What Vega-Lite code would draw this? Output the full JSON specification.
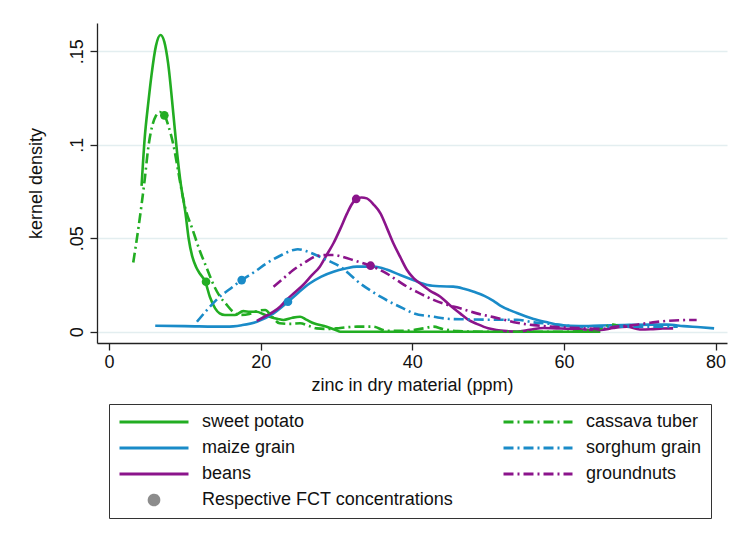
{
  "$schema": "https://vega.github.io/schema/vega-lite/v6.json",
  "width": 630,
  "height": 320,
  "autosize": {"type": "none"},
  "padding": {"left": 97, "top": 23, "right": 23, "bottom": 205},
  "background": "white",
  "config": {
    "font": "Liberation Sans",
    "view": {"stroke": null},
    "axis": {
      "domainColor": "#222222",
      "domainWidth": 1.3,
      "tickColor": "#222222",
      "tickWidth": 1.3,
      "tickSize": 7,
      "labelFont": "Liberation Sans",
      "labelFontSize": 18,
      "labelColor": "#111111",
      "titleFont": "Liberation Sans",
      "titleFontSize": 18,
      "titleFontWeight": "normal",
      "titleColor": "#111111"
    }
  },
  "datasets": {
    "curves": [
      {"crop": "sweet potato", "style": "solid", "x": 4.3, "y": 0.078},
      {"crop": "sweet potato", "style": "solid", "x": 4.7, "y": 0.103},
      {"crop": "sweet potato", "style": "solid", "x": 5.2, "y": 0.123},
      {"crop": "sweet potato", "style": "solid", "x": 5.6, "y": 0.137},
      {"crop": "sweet potato", "style": "solid", "x": 6.2, "y": 0.153},
      {"crop": "sweet potato", "style": "solid", "x": 6.8, "y": 0.1587},
      {"crop": "sweet potato", "style": "solid", "x": 7.3, "y": 0.155},
      {"crop": "sweet potato", "style": "solid", "x": 7.8, "y": 0.1435},
      {"crop": "sweet potato", "style": "solid", "x": 8.5, "y": 0.116},
      {"crop": "sweet potato", "style": "solid", "x": 9.0, "y": 0.095},
      {"crop": "sweet potato", "style": "solid", "x": 9.4, "y": 0.081},
      {"crop": "sweet potato", "style": "solid", "x": 10.1, "y": 0.063},
      {"crop": "sweet potato", "style": "solid", "x": 10.5, "y": 0.05},
      {"crop": "sweet potato", "style": "solid", "x": 11.0, "y": 0.04},
      {"crop": "sweet potato", "style": "solid", "x": 11.5, "y": 0.0345},
      {"crop": "sweet potato", "style": "solid", "x": 12.0, "y": 0.031},
      {"crop": "sweet potato", "style": "solid", "x": 12.7, "y": 0.0267},
      {"crop": "sweet potato", "style": "solid", "x": 13.3, "y": 0.0187},
      {"crop": "sweet potato", "style": "solid", "x": 14.0, "y": 0.0125},
      {"crop": "sweet potato", "style": "solid", "x": 14.6, "y": 0.0098},
      {"crop": "sweet potato", "style": "solid", "x": 15.3, "y": 0.0089},
      {"crop": "sweet potato", "style": "solid", "x": 16.6, "y": 0.0089},
      {"crop": "sweet potato", "style": "solid", "x": 17.7, "y": 0.011},
      {"crop": "sweet potato", "style": "solid", "x": 18.6, "y": 0.0107},
      {"crop": "sweet potato", "style": "solid", "x": 19.5, "y": 0.0107},
      {"crop": "sweet potato", "style": "solid", "x": 20.3, "y": 0.0095},
      {"crop": "sweet potato", "style": "solid", "x": 21.2, "y": 0.008},
      {"crop": "sweet potato", "style": "solid", "x": 22.3, "y": 0.0068},
      {"crop": "sweet potato", "style": "solid", "x": 23.0, "y": 0.0063},
      {"crop": "sweet potato", "style": "solid", "x": 24.2, "y": 0.0075},
      {"crop": "sweet potato", "style": "solid", "x": 25.2, "y": 0.008},
      {"crop": "sweet potato", "style": "solid", "x": 26.0, "y": 0.0065},
      {"crop": "sweet potato", "style": "solid", "x": 27.0, "y": 0.0045},
      {"crop": "sweet potato", "style": "solid", "x": 28.7, "y": 0.0027},
      {"crop": "sweet potato", "style": "solid", "x": 30.0, "y": 0.0008},
      {"crop": "sweet potato", "style": "solid", "x": 30.5, "y": 0.0},
      {"crop": "sweet potato", "style": "solid", "x": 35, "y": 0.0},
      {"crop": "sweet potato", "style": "solid", "x": 40, "y": 0.0},
      {"crop": "sweet potato", "style": "solid", "x": 45, "y": 0.0},
      {"crop": "sweet potato", "style": "solid", "x": 50, "y": 0.0},
      {"crop": "sweet potato", "style": "solid", "x": 55, "y": 0.0},
      {"crop": "sweet potato", "style": "solid", "x": 60, "y": 0.0},
      {"crop": "sweet potato", "style": "solid", "x": 64.8, "y": 0.0},

      {"crop": "cassava tuber", "style": "dashdot", "x": 3.2, "y": 0.037},
      {"crop": "cassava tuber", "style": "dashdot", "x": 3.9, "y": 0.056},
      {"crop": "cassava tuber", "style": "dashdot", "x": 4.7, "y": 0.081},
      {"crop": "cassava tuber", "style": "dashdot", "x": 5.2, "y": 0.099},
      {"crop": "cassava tuber", "style": "dashdot", "x": 5.7, "y": 0.11},
      {"crop": "cassava tuber", "style": "dashdot", "x": 6.2, "y": 0.1155},
      {"crop": "cassava tuber", "style": "dashdot", "x": 6.7, "y": 0.1175},
      {"crop": "cassava tuber", "style": "dashdot", "x": 7.3, "y": 0.116},
      {"crop": "cassava tuber", "style": "dashdot", "x": 7.8, "y": 0.1105},
      {"crop": "cassava tuber", "style": "dashdot", "x": 8.5, "y": 0.0998},
      {"crop": "cassava tuber", "style": "dashdot", "x": 9.1, "y": 0.0865},
      {"crop": "cassava tuber", "style": "dashdot", "x": 9.6, "y": 0.075},
      {"crop": "cassava tuber", "style": "dashdot", "x": 10.2, "y": 0.064},
      {"crop": "cassava tuber", "style": "dashdot", "x": 10.9, "y": 0.0561},
      {"crop": "cassava tuber", "style": "dashdot", "x": 12.0, "y": 0.043},
      {"crop": "cassava tuber", "style": "dashdot", "x": 12.9, "y": 0.034},
      {"crop": "cassava tuber", "style": "dashdot", "x": 13.8, "y": 0.025},
      {"crop": "cassava tuber", "style": "dashdot", "x": 14.6, "y": 0.019},
      {"crop": "cassava tuber", "style": "dashdot", "x": 15.4, "y": 0.015},
      {"crop": "cassava tuber", "style": "dashdot", "x": 16.4, "y": 0.0105},
      {"crop": "cassava tuber", "style": "dashdot", "x": 17.4, "y": 0.009},
      {"crop": "cassava tuber", "style": "dashdot", "x": 18.5, "y": 0.0095},
      {"crop": "cassava tuber", "style": "dashdot", "x": 19.5, "y": 0.011},
      {"crop": "cassava tuber", "style": "dashdot", "x": 20.6, "y": 0.0116},
      {"crop": "cassava tuber", "style": "dashdot", "x": 21.5, "y": 0.008},
      {"crop": "cassava tuber", "style": "dashdot", "x": 22.5, "y": 0.0045},
      {"crop": "cassava tuber", "style": "dashdot", "x": 24.0, "y": 0.0042},
      {"crop": "cassava tuber", "style": "dashdot", "x": 25.2, "y": 0.0045},
      {"crop": "cassava tuber", "style": "dashdot", "x": 26.4, "y": 0.003},
      {"crop": "cassava tuber", "style": "dashdot", "x": 27.4, "y": 0.0018},
      {"crop": "cassava tuber", "style": "dashdot", "x": 29.0, "y": 0.0015},
      {"crop": "cassava tuber", "style": "dashdot", "x": 30.5, "y": 0.002},
      {"crop": "cassava tuber", "style": "dashdot", "x": 32.7, "y": 0.0027},
      {"crop": "cassava tuber", "style": "dashdot", "x": 34.8, "y": 0.0027},
      {"crop": "cassava tuber", "style": "dashdot", "x": 36.6, "y": 0.0005},
      {"crop": "cassava tuber", "style": "dashdot", "x": 39.0, "y": 0.0005},
      {"crop": "cassava tuber", "style": "dashdot", "x": 41.5, "y": 0.0018},
      {"crop": "cassava tuber", "style": "dashdot", "x": 42.8, "y": 0.0027},
      {"crop": "cassava tuber", "style": "dashdot", "x": 44.0, "y": 0.0015},
      {"crop": "cassava tuber", "style": "dashdot", "x": 46.0, "y": 0.0003},
      {"crop": "cassava tuber", "style": "dashdot", "x": 50.0, "y": 0.0},
      {"crop": "cassava tuber", "style": "dashdot", "x": 55.0, "y": 0.0},
      {"crop": "cassava tuber", "style": "dashdot", "x": 60.0, "y": 0.0},
      {"crop": "cassava tuber", "style": "dashdot", "x": 63.0, "y": 0.0005},
      {"crop": "cassava tuber", "style": "dashdot", "x": 65.0, "y": 0.002},
      {"crop": "cassava tuber", "style": "dashdot", "x": 66.5, "y": 0.0038},
      {"crop": "cassava tuber", "style": "dashdot", "x": 67.2, "y": 0.003},

      {"crop": "maize grain", "style": "solid", "x": 6.1, "y": 0.0032},
      {"crop": "maize grain", "style": "solid", "x": 10.0, "y": 0.003},
      {"crop": "maize grain", "style": "solid", "x": 15.5, "y": 0.0027},
      {"crop": "maize grain", "style": "solid", "x": 17.5, "y": 0.0035},
      {"crop": "maize grain", "style": "solid", "x": 19.5, "y": 0.0053},
      {"crop": "maize grain", "style": "solid", "x": 21.7, "y": 0.0098},
      {"crop": "maize grain", "style": "solid", "x": 23.6, "y": 0.016},
      {"crop": "maize grain", "style": "solid", "x": 25.0, "y": 0.021},
      {"crop": "maize grain", "style": "solid", "x": 26.5, "y": 0.0259},
      {"crop": "maize grain", "style": "solid", "x": 28.0, "y": 0.0295},
      {"crop": "maize grain", "style": "solid", "x": 29.6, "y": 0.0321},
      {"crop": "maize grain", "style": "solid", "x": 31.2, "y": 0.0338},
      {"crop": "maize grain", "style": "solid", "x": 32.7, "y": 0.0348},
      {"crop": "maize grain", "style": "solid", "x": 34.9, "y": 0.0348},
      {"crop": "maize grain", "style": "solid", "x": 36.6, "y": 0.0333},
      {"crop": "maize grain", "style": "solid", "x": 38.4, "y": 0.0303},
      {"crop": "maize grain", "style": "solid", "x": 40.2, "y": 0.0275},
      {"crop": "maize grain", "style": "solid", "x": 42.0, "y": 0.025},
      {"crop": "maize grain", "style": "solid", "x": 43.7, "y": 0.0243},
      {"crop": "maize grain", "style": "solid", "x": 45.4, "y": 0.0241},
      {"crop": "maize grain", "style": "solid", "x": 46.8, "y": 0.023},
      {"crop": "maize grain", "style": "solid", "x": 48.1, "y": 0.0214},
      {"crop": "maize grain", "style": "solid", "x": 49.5, "y": 0.0192},
      {"crop": "maize grain", "style": "solid", "x": 50.7, "y": 0.0165},
      {"crop": "maize grain", "style": "solid", "x": 51.6, "y": 0.014},
      {"crop": "maize grain", "style": "solid", "x": 53.8, "y": 0.01},
      {"crop": "maize grain", "style": "solid", "x": 56.0, "y": 0.0068},
      {"crop": "maize grain", "style": "solid", "x": 57.8, "y": 0.005},
      {"crop": "maize grain", "style": "solid", "x": 59.5, "y": 0.0035},
      {"crop": "maize grain", "style": "solid", "x": 62.0, "y": 0.003},
      {"crop": "maize grain", "style": "solid", "x": 64.8, "y": 0.0033},
      {"crop": "maize grain", "style": "solid", "x": 68.0, "y": 0.0036},
      {"crop": "maize grain", "style": "solid", "x": 71.4, "y": 0.0038},
      {"crop": "maize grain", "style": "solid", "x": 73.6, "y": 0.0038},
      {"crop": "maize grain", "style": "solid", "x": 75.8, "y": 0.003},
      {"crop": "maize grain", "style": "solid", "x": 78.0, "y": 0.0024},
      {"crop": "maize grain", "style": "solid", "x": 79.8, "y": 0.0018},

      {"crop": "sorghum grain", "style": "dashdot", "x": 11.6, "y": 0.0053},
      {"crop": "sorghum grain", "style": "dashdot", "x": 13.0, "y": 0.012},
      {"crop": "sorghum grain", "style": "dashdot", "x": 14.6, "y": 0.0187},
      {"crop": "sorghum grain", "style": "dashdot", "x": 16.0, "y": 0.023},
      {"crop": "sorghum grain", "style": "dashdot", "x": 17.5, "y": 0.0276},
      {"crop": "sorghum grain", "style": "dashdot", "x": 19.2, "y": 0.032},
      {"crop": "sorghum grain", "style": "dashdot", "x": 20.8, "y": 0.0366},
      {"crop": "sorghum grain", "style": "dashdot", "x": 22.5, "y": 0.0405},
      {"crop": "sorghum grain", "style": "dashdot", "x": 24.3, "y": 0.0437},
      {"crop": "sorghum grain", "style": "dashdot", "x": 24.9, "y": 0.0441},
      {"crop": "sorghum grain", "style": "dashdot", "x": 26.2, "y": 0.0428},
      {"crop": "sorghum grain", "style": "dashdot", "x": 27.8, "y": 0.0401},
      {"crop": "sorghum grain", "style": "dashdot", "x": 29.2, "y": 0.0375},
      {"crop": "sorghum grain", "style": "dashdot", "x": 30.5, "y": 0.0348},
      {"crop": "sorghum grain", "style": "dashdot", "x": 31.8, "y": 0.0305},
      {"crop": "sorghum grain", "style": "dashdot", "x": 33.1, "y": 0.0259},
      {"crop": "sorghum grain", "style": "dashdot", "x": 34.5, "y": 0.022},
      {"crop": "sorghum grain", "style": "dashdot", "x": 35.8, "y": 0.0187},
      {"crop": "sorghum grain", "style": "dashdot", "x": 37.5, "y": 0.015},
      {"crop": "sorghum grain", "style": "dashdot", "x": 38.8, "y": 0.0125},
      {"crop": "sorghum grain", "style": "dashdot", "x": 40.2, "y": 0.0098},
      {"crop": "sorghum grain", "style": "dashdot", "x": 42.8, "y": 0.008},
      {"crop": "sorghum grain", "style": "dashdot", "x": 45.0, "y": 0.0068},
      {"crop": "sorghum grain", "style": "dashdot", "x": 47.2, "y": 0.0066},
      {"crop": "sorghum grain", "style": "dashdot", "x": 50.7, "y": 0.0064},
      {"crop": "sorghum grain", "style": "dashdot", "x": 53.8, "y": 0.0064},
      {"crop": "sorghum grain", "style": "dashdot", "x": 56.0, "y": 0.005},
      {"crop": "sorghum grain", "style": "dashdot", "x": 58.2, "y": 0.0042},
      {"crop": "sorghum grain", "style": "dashdot", "x": 60.5, "y": 0.0032},
      {"crop": "sorghum grain", "style": "dashdot", "x": 62.6, "y": 0.0027},
      {"crop": "sorghum grain", "style": "dashdot", "x": 66.0, "y": 0.0027},
      {"crop": "sorghum grain", "style": "dashdot", "x": 69.2, "y": 0.0027},
      {"crop": "sorghum grain", "style": "dashdot", "x": 72.0, "y": 0.0027},
      {"crop": "sorghum grain", "style": "dashdot", "x": 75.0, "y": 0.0027},

      {"crop": "beans", "style": "solid", "x": 19.5, "y": 0.0058},
      {"crop": "beans", "style": "solid", "x": 20.5, "y": 0.008},
      {"crop": "beans", "style": "solid", "x": 21.7, "y": 0.0107},
      {"crop": "beans", "style": "solid", "x": 22.6, "y": 0.0135},
      {"crop": "beans", "style": "solid", "x": 23.4, "y": 0.017},
      {"crop": "beans", "style": "solid", "x": 24.5, "y": 0.021},
      {"crop": "beans", "style": "solid", "x": 25.6, "y": 0.025},
      {"crop": "beans", "style": "solid", "x": 26.7, "y": 0.03},
      {"crop": "beans", "style": "solid", "x": 27.8, "y": 0.0348},
      {"crop": "beans", "style": "solid", "x": 28.7, "y": 0.041},
      {"crop": "beans", "style": "solid", "x": 29.6, "y": 0.0473},
      {"crop": "beans", "style": "solid", "x": 30.5, "y": 0.055},
      {"crop": "beans", "style": "solid", "x": 31.4, "y": 0.0633},
      {"crop": "beans", "style": "solid", "x": 32.0, "y": 0.068},
      {"crop": "beans", "style": "solid", "x": 32.6, "y": 0.071},
      {"crop": "beans", "style": "solid", "x": 33.3, "y": 0.0718},
      {"crop": "beans", "style": "solid", "x": 34.0, "y": 0.0713},
      {"crop": "beans", "style": "solid", "x": 34.9, "y": 0.068},
      {"crop": "beans", "style": "solid", "x": 35.8, "y": 0.0633},
      {"crop": "beans", "style": "solid", "x": 36.7, "y": 0.055},
      {"crop": "beans", "style": "solid", "x": 37.5, "y": 0.0473},
      {"crop": "beans", "style": "solid", "x": 38.4, "y": 0.04},
      {"crop": "beans", "style": "solid", "x": 39.3, "y": 0.033},
      {"crop": "beans", "style": "solid", "x": 40.2, "y": 0.0285},
      {"crop": "beans", "style": "solid", "x": 41.0, "y": 0.0259},
      {"crop": "beans", "style": "solid", "x": 42.3, "y": 0.022},
      {"crop": "beans", "style": "solid", "x": 43.7, "y": 0.0187},
      {"crop": "beans", "style": "solid", "x": 45.0, "y": 0.014},
      {"crop": "beans", "style": "solid", "x": 46.3, "y": 0.0098},
      {"crop": "beans", "style": "solid", "x": 47.4, "y": 0.0063},
      {"crop": "beans", "style": "solid", "x": 48.5, "y": 0.0042},
      {"crop": "beans", "style": "solid", "x": 50.0, "y": 0.0018},
      {"crop": "beans", "style": "solid", "x": 51.1, "y": 0.0009},
      {"crop": "beans", "style": "solid", "x": 52.5, "y": 0.0003},
      {"crop": "beans", "style": "solid", "x": 53.8, "y": 0.0},
      {"crop": "beans", "style": "solid", "x": 55.5, "y": 0.001},
      {"crop": "beans", "style": "solid", "x": 57.3, "y": 0.002},
      {"crop": "beans", "style": "solid", "x": 59.0, "y": 0.0018},
      {"crop": "beans", "style": "solid", "x": 60.8, "y": 0.0016},
      {"crop": "beans", "style": "solid", "x": 62.5, "y": 0.0012},
      {"crop": "beans", "style": "solid", "x": 64.8, "y": 0.0009},
      {"crop": "beans", "style": "solid", "x": 66.5, "y": 0.002},
      {"crop": "beans", "style": "solid", "x": 68.3, "y": 0.0027},
      {"crop": "beans", "style": "solid", "x": 70.0, "y": 0.0012},
      {"crop": "beans", "style": "solid", "x": 71.4, "y": 0.0013},
      {"crop": "beans", "style": "solid", "x": 73.0, "y": 0.0017},
      {"crop": "beans", "style": "solid", "x": 74.4, "y": 0.0018},

      {"crop": "groundnuts", "style": "dashdot", "x": 21.7, "y": 0.0241},
      {"crop": "groundnuts", "style": "dashdot", "x": 23.0, "y": 0.0285},
      {"crop": "groundnuts", "style": "dashdot", "x": 24.3, "y": 0.033},
      {"crop": "groundnuts", "style": "dashdot", "x": 25.8, "y": 0.037},
      {"crop": "groundnuts", "style": "dashdot", "x": 27.4, "y": 0.0405},
      {"crop": "groundnuts", "style": "dashdot", "x": 28.5, "y": 0.041},
      {"crop": "groundnuts", "style": "dashdot", "x": 29.6, "y": 0.041},
      {"crop": "groundnuts", "style": "dashdot", "x": 31.0, "y": 0.0398},
      {"crop": "groundnuts", "style": "dashdot", "x": 32.2, "y": 0.0383},
      {"crop": "groundnuts", "style": "dashdot", "x": 33.4, "y": 0.0368},
      {"crop": "groundnuts", "style": "dashdot", "x": 34.5, "y": 0.0353},
      {"crop": "groundnuts", "style": "dashdot", "x": 35.5, "y": 0.0335},
      {"crop": "groundnuts", "style": "dashdot", "x": 36.6, "y": 0.0312},
      {"crop": "groundnuts", "style": "dashdot", "x": 38.0, "y": 0.0275},
      {"crop": "groundnuts", "style": "dashdot", "x": 39.3, "y": 0.0241},
      {"crop": "groundnuts", "style": "dashdot", "x": 41.0, "y": 0.0205},
      {"crop": "groundnuts", "style": "dashdot", "x": 42.8, "y": 0.017},
      {"crop": "groundnuts", "style": "dashdot", "x": 44.5, "y": 0.0145},
      {"crop": "groundnuts", "style": "dashdot", "x": 46.3, "y": 0.0125},
      {"crop": "groundnuts", "style": "dashdot", "x": 48.5, "y": 0.0098},
      {"crop": "groundnuts", "style": "dashdot", "x": 50.7, "y": 0.0078},
      {"crop": "groundnuts", "style": "dashdot", "x": 52.5, "y": 0.006},
      {"crop": "groundnuts", "style": "dashdot", "x": 53.8, "y": 0.0048},
      {"crop": "groundnuts", "style": "dashdot", "x": 56.0, "y": 0.0035},
      {"crop": "groundnuts", "style": "dashdot", "x": 58.2, "y": 0.0027},
      {"crop": "groundnuts", "style": "dashdot", "x": 60.5, "y": 0.0022},
      {"crop": "groundnuts", "style": "dashdot", "x": 62.6, "y": 0.0018},
      {"crop": "groundnuts", "style": "dashdot", "x": 64.8, "y": 0.0015},
      {"crop": "groundnuts", "style": "dashdot", "x": 67.0, "y": 0.0027},
      {"crop": "groundnuts", "style": "dashdot", "x": 69.2, "y": 0.0036},
      {"crop": "groundnuts", "style": "dashdot", "x": 71.4, "y": 0.0048},
      {"crop": "groundnuts", "style": "dashdot", "x": 73.6, "y": 0.0058},
      {"crop": "groundnuts", "style": "dashdot", "x": 75.5, "y": 0.0062},
      {"crop": "groundnuts", "style": "dashdot", "x": 77.5, "y": 0.0063}
    ],
    "fct": [
      {"crop": "sweet potato", "x": 12.8, "y": 0.0267},
      {"crop": "cassava tuber", "x": 7.3, "y": 0.1157},
      {"crop": "maize grain", "x": 23.6, "y": 0.016},
      {"crop": "sorghum grain", "x": 17.5, "y": 0.0276},
      {"crop": "beans", "x": 32.6, "y": 0.071},
      {"crop": "groundnuts", "x": 34.5, "y": 0.0353}
    ]
  },
  "layer": [
    {
      "data": {"name": "curves"},
      "transform": [{"filter": "datum.style === 'solid'"}],
      "mark": {"type": "line", "strokeWidth": 2.6, "interpolate": "monotone"},
      "encoding": {
        "x": {
          "field": "x", "type": "quantitative",
          "scale": {"domain": [-1.58, 81.5], "nice": false, "zero": false},
          "axis": {"values": [0, 20, 40, 60, 80], "grid": false, "labelPadding": 3, "titlePadding": 5},
          "title": "zinc in dry material (ppm)"
        },
        "y": {
          "field": "y", "type": "quantitative",
          "scale": {"domain": [-0.00604, 0.1651], "nice": false, "zero": false},
          "axis": {
            "values": [0, 0.05, 0.1, 0.15],
            "labelExpr": "datum.value == 0 ? '0' : replace(format(datum.value, '.2~f'), '0.', '.')",
            "labelAngle": -90,
            "labelAlign": "center",
            "labelBaseline": "bottom",
            "labelPadding": 4,
            "grid": true,
            "gridColor": "#e3eef0",
            "gridWidth": 1.5,
            "titlePadding": 23
          },
          "title": "kernel density"
        },
        "color": {
          "field": "crop", "type": "nominal",
          "scale": {
            "domain": ["sweet potato", "cassava tuber", "maize grain", "sorghum grain", "beans", "groundnuts", "Respective FCT concentrations"],
            "range": ["#22ad22", "#22ad22", "#1a8bc8", "#1a8bc8", "#8b148b", "#8b148b", "#8c8c8c"]
          },
          "legend": {
            "title": null,
            "orient": "none",
            "legendX": 12,
            "legendY": 381,
            "direction": "horizontal",
            "columns": 2,
            "columnPadding": 48,
            "rowPadding": 8,
            "padding": 9,
            "clipHeight": 18,
            "strokeColor": "#333333",
            "fillColor": "white",
            "symbolType": "stroke",
            "symbolSize": 4761,
            "symbolStrokeWidth": 3,
            "symbolOffset": 0,
            "labelOffset": 12,
            "labelFont": "Liberation Sans",
            "labelFontSize": 18,
            "labelColor": "#111111",
            "labelLimit": 400,
            "encode": {
              "symbols": {
                "update": {
                  "shape": {"signal": "datum.value === 'Respective FCT concentrations' ? 'M-0.14,0A0.14,0.14 0 1,0 0.14,0A0.14,0.14 0 1,0 -0.14,0Z' : 'stroke'"},
                  "fill": {"signal": "datum.value === 'Respective FCT concentrations' ? '#8c8c8c' : 'transparent'"},
                  "stroke": {"signal": "datum.value === 'Respective FCT concentrations' ? 'transparent' : scale('color', datum.value)"},
                  "strokeDash": {"signal": "indexof(['cassava tuber','sorghum grain','groundnuts'], datum.value) >= 0 ? [10,4,2,4] : [1,0]"},
                  "strokeWidth": {"value": 3}
                }
              }
            }
          }
        }
      }
    },
    {
      "data": {"name": "curves"},
      "transform": [{"filter": "datum.style === 'dashdot'"}],
      "mark": {"type": "line", "strokeWidth": 2.6, "interpolate": "monotone", "strokeDash": [10, 4, 2, 4]},
      "encoding": {
        "x": {"field": "x", "type": "quantitative"},
        "y": {"field": "y", "type": "quantitative"},
        "color": {"field": "crop", "type": "nominal"}
      }
    },
    {
      "data": {"name": "fct"},
      "mark": {"type": "point", "filled": true, "size": 75, "opacity": 1},
      "encoding": {
        "x": {"field": "x", "type": "quantitative"},
        "y": {"field": "y", "type": "quantitative"},
        "color": {"field": "crop", "type": "nominal"}
      }
    }
  ]
}
